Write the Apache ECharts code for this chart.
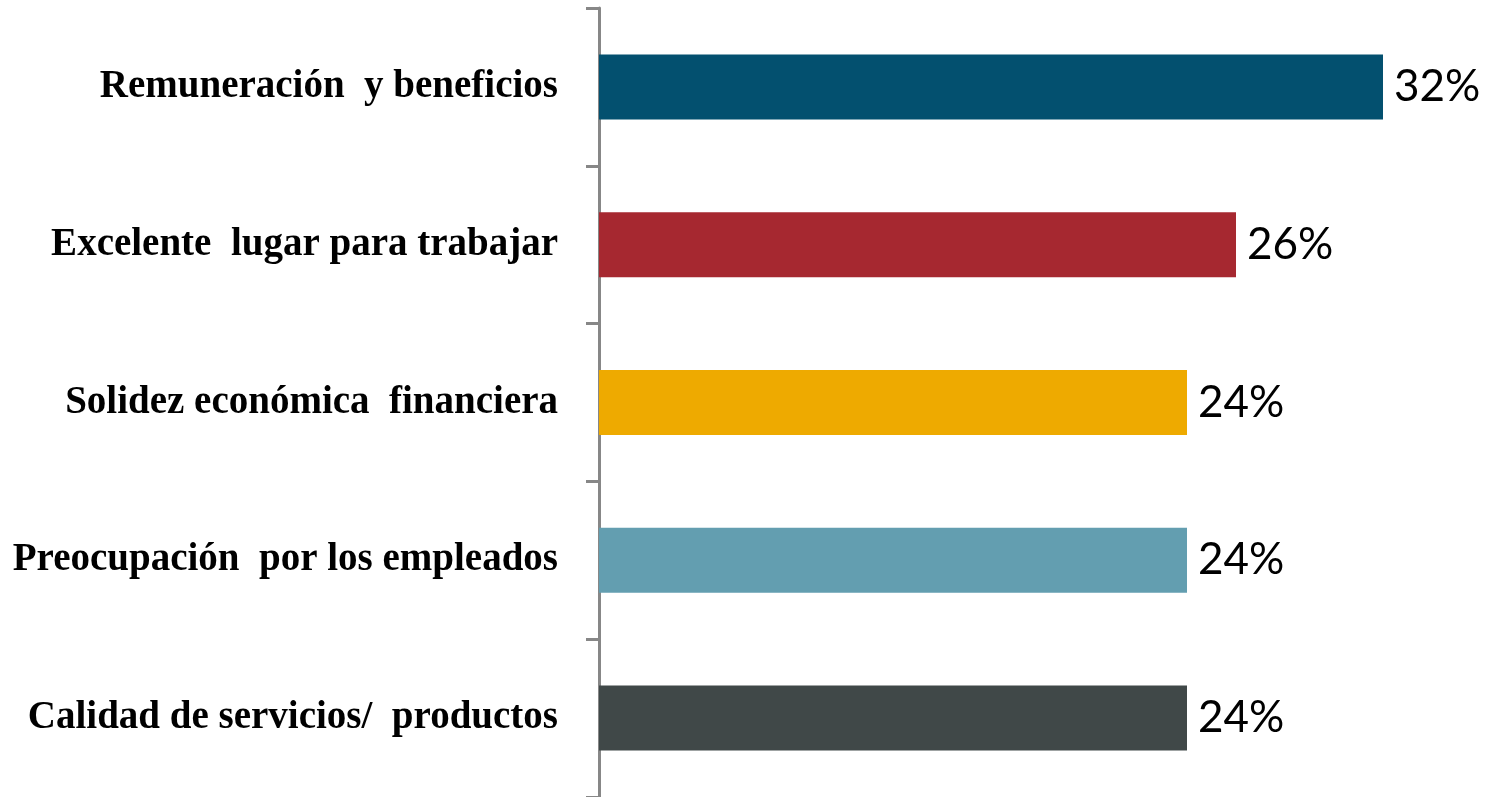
<!DOCTYPE html>
<html>
<head>
<meta charset="utf-8">
<script src="https://cdn.jsdelivr.net/npm/echarts@6/dist/echarts.min.js"></script>
<style>
html,body{margin:0;padding:0;background:#fff;}
#chart{width:1497px;height:797px;}
</style>
</head>
<body>
<div id="chart"></div>
<script>
const categories = [
  "Remuneración  y beneficios",
  "Excelente  lugar para trabajar",
  "Solidez económica  financiera",
  "Preocupación  por los empleados",
  "Calidad de servicios/  productos"
];
const values = [32, 26, 24, 24, 24];
const colors = ["#03506F", "#A62830", "#EEAA00", "#639EB0", "#404848"];

const chart = echarts.init(document.getElementById('chart'));
chart.setOption({
  animation: false,
  backgroundColor: '#fff',
  grid: { left: 599, right: 16, top: 8, bottom: 0, containLabel: false },
  xAxis: {
    type: 'value', min: 0, max: 36,
    show: false
  },
  yAxis: {
    type: 'category',
    inverse: true,
    data: categories,
    axisLine: { show: true, lineStyle: { color: '#878787', width: 3 } },
    axisTick: { show: true, length: 13, lineStyle: { color: '#878787', width: 3 } },
    axisLabel: {
      margin: 41,
      color: '#000',
      fontFamily: 'Liberation Serif',
      fontWeight: 'bold',
      fontSize: 39,
      padding: [6, 0, 0, 0]
    }
  },
  series: [{
    type: 'bar',
    barWidth: 65,
    data: values.map((v, i) => ({ value: v, itemStyle: { color: colors[i] } })),
    label: {
      show: true,
      position: 'right',
      distance: 11,
      formatter: '{c}%',
      color: '#000',
      fontFamily: 'Lato',
      fontSize: 44
    }
  }]
});
</script>
</body>
</html>
